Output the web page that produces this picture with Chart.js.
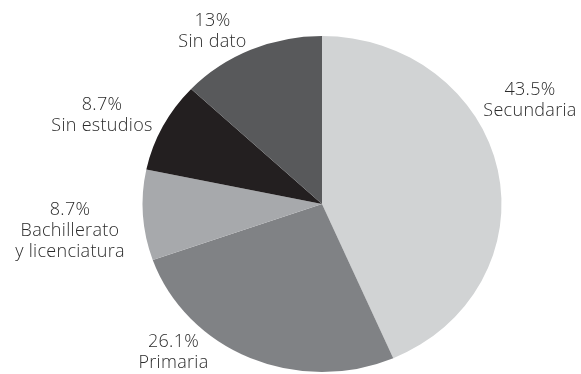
<!DOCTYPE html>
<html>
<head>
<meta charset="utf-8">
<script src="https://cdn.jsdelivr.net/npm/chart.js@4/dist/chart.umd.min.js"></script>
<style>
    html, body { margin: 0; padding: 0; background: #ffffff; }
    #wrap { width: 581px; height: 374px; }
</style>
</head>
<body>
<div id="wrap"><canvas id="pie" width="581" height="374"></canvas></div>
<script>
// Escolaridad, en porcentaje (en orden de las manecillas desde arriba)
const categories = [['Secundaria'], ['Primaria'], ['Bachillerato', 'y licenciatura'], ['Sin estudios'], ['Sin dato']];
const values = [43.5, 26.1, 8.7, 8.7, 13];
const sliceColors = ['#d1d3d4', '#808285', '#a7a9ac', '#231f20', '#58595b'];

// where each label's first baseline sits (text centred on x)
const labelAnchors = [[530, 95], [173.5, 347], [70, 215], [102, 110], [212.5, 26]];

// the printed pie is a bit wider than tall
const stretchX = 1.0685;

const stretchPlugin = {
    id: 'stretch',
    beforeDatasetsDraw(chart) {
        const ctx = chart.ctx;
        const arc = chart.getDatasetMeta(0).data[0];
        ctx.save();
        ctx.translate(arc.x, arc.y);
        ctx.scale(stretchX, 1);
        ctx.translate(-arc.x, -arc.y);
    },
    afterDatasetsDraw(chart) {
        chart.ctx.restore();
    }
};

const labelPlugin = {
    id: 'sliceLabels',
    afterDraw(chart) {
        const ctx = chart.ctx;
        ctx.save();
        ctx.font = '300 18px "Open Sans"';
        ctx.letterSpacing = '0.3px';
        ctx.fillStyle = '#2b2b2b';
        ctx.textAlign = 'center';
        ctx.textBaseline = 'alphabetic';
        values.forEach((v, i) => {
            const [x, y] = labelAnchors[i];
            const lines = [v + '%'].concat(categories[i]);
            lines.forEach((line, j) => {
                ctx.fillText(line, x, y + j * 21);
            });
        });
        ctx.restore();
    }
};

new Chart(document.getElementById('pie'), {
    type: 'pie',
    data: {
        labels: categories.map(c => c.join(' ')),
        datasets: [{
            data: values,
            backgroundColor: sliceColors,
            borderWidth: 0,
            hoverOffset: 0
        }]
    },
    options: {
        responsive: false,
        devicePixelRatio: 1,
        animation: false,
        layout: {
            padding: { top: 36, bottom: 2, left: 63, right: 0 }
        },
        plugins: {
            legend: { display: false },
            tooltip: { enabled: false }
        }
    },
    plugins: [stretchPlugin, labelPlugin]
});
</script>
</body>
</html>
